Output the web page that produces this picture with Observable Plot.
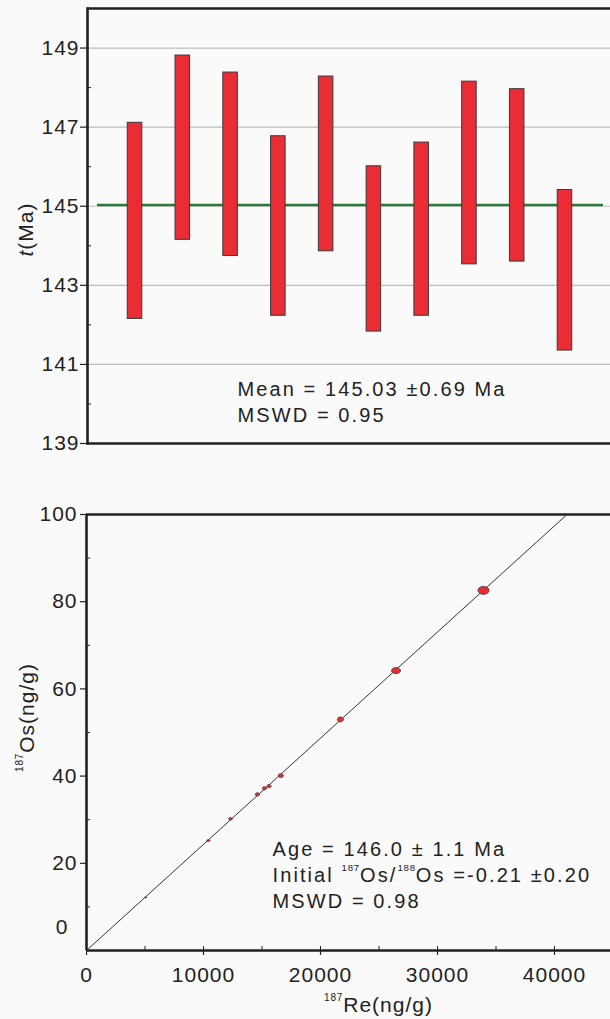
<!DOCTYPE html>
<html><head><meta charset="utf-8">
<script src="https://cdn.jsdelivr.net/npm/d3@7"></script>
<script src="https://cdn.jsdelivr.net/npm/@observablehq/plot@0.6"></script>
<style>
html,body{margin:0;padding:0;background:#fafafa;}
#chart svg{display:block;}
svg text{letter-spacing:1px;}
svg g[font-size="20"] text{letter-spacing:2.1px;}
svg text tspan.sup{letter-spacing:0.8px;}
</style></head><body><div id="chart"></div>
<script>
// ---- Top panel: model ages (Ma) with uncertainty, one per sample
const samples = ["1","2","3","4","5","6","7","8","9","10"];
const ageMa  = [144.63, 146.48, 146.06, 144.50, 146.07, 143.92, 144.42, 145.84, 145.78, 143.38];
const ageErr = [2.48, 2.33, 2.32, 2.27, 2.21, 2.09, 2.19, 2.31, 2.18, 2.03];
const weightedMean = 145.03;
const ageTicks = [139, 141, 143, 145, 147, 149];
const ageMinorTicks = [140, 142, 144, 146, 148];
const ageGrid = [141, 143, 145, 147, 149];
const topNotes = ["Mean = 145.03 ±0.69 Ma", "MSWD = 0.95"];

// ---- Bottom panel: Re-Os isochron
const re187  = [33930, 26450, 21700, 16600, 15600, 15200, 14600, 12300, 10400, 5040];
const os187  = [82.6, 64.2, 53.0, 40.1, 37.7, 37.2, 35.8, 30.2, 25.2, 12.2];
const reErr  = [470, 385, 256, 214, 171, 171, 171, 145, 128, 68];
const osErr  = [0.92, 0.69, 0.57, 0.46, 0.39, 0.39, 0.39, 0.30, 0.23, 0.14];
const isoSlope = 0.002435;
const isoIntercept = 0;
const isoReRange = [0, 45000];
const reTicks = [0, 10000, 20000, 30000, 40000];
const reMinorTicks = [5000, 10000, 15000, 20000, 25000, 30000, 35000, 40000];
const osTicks = [20, 40, 60, 80, 100];
const osMinorTicks = [10, 30, 50, 70, 90];
const bottomNotes = ["Age = 146.0 ± 1.1 Ma", "Initial ^{187}Os/^{188}Os =-0.21 ±0.20", "MSWD = 0.98"];

const RED = "#ea2d35", EDGE = "#3a3a3a", INK = "#222", GREEN = "#2c7b3a";
const FONT = "'Liberation Sans', Arial, Helvetica, sans-serif";

const ages = samples.map((s, i) => ({id: s, lo: ageMa[i] - ageErr[i], hi: ageMa[i] + ageErr[i]}));

const topChart = Plot.plot({
  width: 610, height: 470,
  marginTop: 8, marginBottom: 27, marginLeft: 87, marginRight: -2,
  style: {fontFamily: FONT, fontSize: "21px", background: "#fafafa", color: INK, overflow: "visible"},
  x: {type: "band", domain: samples, paddingInner: 0.696, paddingOuter: 0.843, round: false, axis: null},
  y: {domain: [139, 150], axis: null},
  marks: [
    Plot.gridY(ageGrid, {stroke: "#bdbdbd", strokeOpacity: 1, strokeWidth: 1.2}),
    Plot.ruleY([weightedMean], {stroke: GREEN, strokeWidth: 2.5, insetLeft: 10, insetRight: 9}),
    Plot.barY(ages, {x: "id", y1: "lo", y2: "hi", fill: RED, stroke: EDGE, strokeWidth: 1}),
    Plot.axisY({ticks: ageTicks, tickSize: 7, tickPadding: 1, label: null, stroke: INK, strokeWidth: 1.2}),
    Plot.axisY({ticks: ageMinorTicks, tickSize: -4, text: null, label: null, stroke: INK}),
    Plot.ruleY([139, 150], {stroke: INK, strokeWidth: 2.6}),
    Plot.frame({anchor: "left", stroke: INK, strokeWidth: 2.6}),
    Plot.text(["*{t}(Ma)"], {frameAnchor: "left", textAnchor: "middle", rotate: -90, lineAnchor: "bottom", dx: -55, dy: 3.5, fontSize: 21}),
    ...topNotes.map((s, i) => Plot.text([s], {frameAnchor: "top-left", textAnchor: "start", lineAnchor: "bottom", dx: 150, dy: 387 + i * 26, fontSize: 20}))
  ]
});

const ellipses = [];
re187.forEach((r, i) => {
  for (let k = 0; k < 28; k++) {
    const a = 2 * Math.PI * k / 28;
    ellipses.push({id: i, re: r + reErr[i] * Math.cos(a), os: os187[i] + osErr[i] * Math.sin(a)});
  }
});
const isoLine = isoReRange.map(r => ({re: r, os: isoIntercept + isoSlope * r}));

const bottomChart = Plot.plot({
  width: 610, height: 549,
  marginTop: 44, marginBottom: 69, marginLeft: 86, marginRight: 0,
  style: {fontFamily: FONT, fontSize: "21px", background: "#fafafa", color: INK, overflow: "visible"},
  x: {domain: [0, 44786], axis: null},
  y: {domain: [0, 100], axis: null},
  marks: [
    Plot.line(isoLine, {x: "re", y: "os", stroke: "#333", strokeWidth: 1, clip: true}),
    Plot.line(ellipses, {x: "re", y: "os", z: "id", curve: "linear-closed", fill: RED, stroke: EDGE, strokeWidth: 0.8}),
    Plot.axisY({ticks: osTicks, tickSize: 6, tickPadding: 3, label: null, stroke: INK, strokeWidth: 1.2}),
    Plot.axisY({ticks: [0], tickSize: 0, tickPadding: 18, dy: -23, label: null}),
    Plot.axisY({ticks: osMinorTicks, tickSize: -4, text: null, label: null, stroke: INK}),
    Plot.axisX({ticks: reTicks, tickFormat: d3.format("d"), tickSize: 5, tickPadding: 12, label: null, stroke: INK, strokeWidth: 1.2}),
    Plot.axisX({ticks: reMinorTicks, tickSize: -4, text: null, label: null, stroke: INK}),
    Plot.ruleX([0], {stroke: INK, strokeWidth: 2.6}),
    Plot.ruleY([0, 100], {stroke: INK, strokeWidth: 2.6}),
    Plot.text(["^{187}Os(ng/g)"], {frameAnchor: "left", textAnchor: "middle", rotate: -90, lineAnchor: "bottom", dx: -53, dy: -15, fontSize: 21}),
    Plot.text(["^{187}Re(ng/g)"], {frameAnchor: "bottom", textAnchor: "middle", lineAnchor: "bottom", dx: 30, dy: 61, fontSize: 21}),
    ...bottomNotes.map((s, i) => Plot.text([s], {frameAnchor: "top-left", textAnchor: "start", lineAnchor: "bottom", dx: 186, dy: 341 + i * 26, fontSize: 20}))
  ]
});

function richify(svg) {
  svg.querySelectorAll("text").forEach(t => {
    const s = t.textContent;
    if (!/[\^*]\{/.test(s)) return;
    let fs = 21;
    for (let n = t; n && n.getAttribute; n = n.parentNode) {
      const v = parseFloat(n.getAttribute("font-size"));
      if (v) { fs = v; break; }
    }
    while (t.firstChild) t.removeChild(t.firstChild);
    const rx = /([\^*])\{([^}]*)\}|([^\^*]+)/g;
    let m, raised = false;
    while ((m = rx.exec(s))) {
      const ts = document.createElementNS("http://www.w3.org/2000/svg", "tspan");
      if (m[1] === "^") {
        ts.textContent = m[2];
        ts.setAttribute("class", "sup");
        ts.setAttribute("font-size", (fs * 0.48) + "px");
        ts.setAttribute("dy", (-fs * 0.52) + "px");
        raised = true;
      } else {
        ts.textContent = m[1] === "*" ? m[2] : m[3];
        if (m[1] === "*") ts.setAttribute("font-style", "italic");
        if (raised) { ts.setAttribute("dy", (fs * 0.52) + "px"); raised = false; }
      }
      t.appendChild(ts);
    }
  });
}
richify(topChart); richify(bottomChart);
document.getElementById("chart").append(topChart, bottomChart);
</script></body></html>
